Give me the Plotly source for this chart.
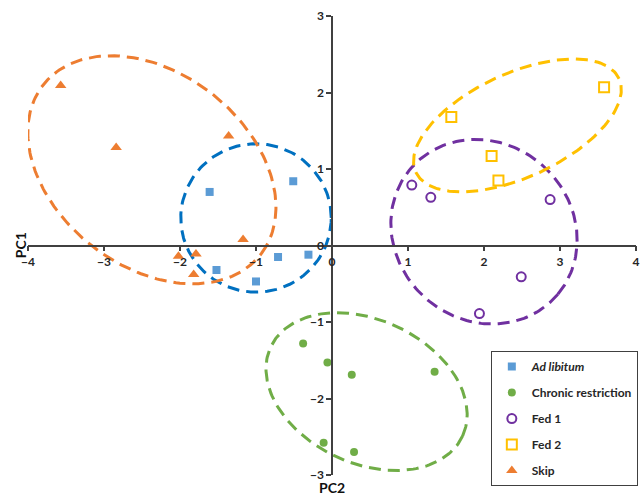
import numpy as np
import plotly.graph_objects as go

# Group names (legend order)
groups = ["<i>Ad libitum</i>", "Chronic restriction", "Fed 1", "Fed 2", "Skip"]

# PCA scores per group
ad_lib_x = [-1.61, -0.51, -1.52, -1.00, -0.71, -0.31]
ad_lib_y = [0.70, 0.84, -0.32, -0.47, -0.15, -0.12]
chronic_x = [-0.38, -0.06, 0.26, 1.35, -0.11, 0.29]
chronic_y = [-1.28, -1.53, -1.69, -1.65, -2.58, -2.70]
fed1_x = [1.05, 1.30, 2.87, 2.49, 1.94]
fed1_y = [0.79, 0.63, 0.60, -0.41, -0.89]
fed2_x = [1.57, 2.10, 2.19, 3.58]
fed2_y = [1.68, 1.17, 0.85, 2.07]
skip_x = [-3.57, -2.84, -1.36, -1.17, -2.02, -1.79, -1.82]
skip_y = [2.09, 1.28, 1.43, 0.08, -0.14, -0.11, -0.38]

# Group ellipses: centre, semi-axes and rotation (degrees)
ell_cx = [-1.00, 0.455, 2.00, 2.44, -2.37]
ell_cy = [0.36, -1.91, 0.18, 1.57, 0.99]
ell_a = [0.99, 1.39, 1.27, 1.47, 1.81]
ell_b = [0.97, 0.94, 1.16, 0.68, 1.27]
ell_angle = [0, -24.5, -40, 24.5, -37.3]

x_ticks = [-4, -3, -2, -1, 0, 1, 2, 3, 4]
y_ticks = [-3, -2, -1, 0, 1, 2, 3]

xs = [ad_lib_x, chronic_x, fed1_x, fed2_x, skip_x]
ys = [ad_lib_y, chronic_y, fed1_y, fed2_y, skip_y]
ell_colors = ["#0070C0", "#70AD47", "#7030A0", "#FFC000", "#ED7D31"]
marker_styles = [
    dict(symbol="square", size=8, color="#5B9BD5"),
    dict(symbol="circle", size=8, color="#70AD47"),
    dict(symbol="circle-open", size=9, color="#7030A0", line=dict(width=2, color="#7030A0")),
    dict(symbol="square-open", size=10, color="#FFC000", line=dict(width=2, color="#FFC000")),
    dict(symbol="triangle-up", size=10, color="#ED7D31"),
]

fig = go.Figure()

t = np.linspace(0, 2 * np.pi, 200)
for cx, cy, a, b, ang, col in zip(ell_cx, ell_cy, ell_a, ell_b, ell_angle, ell_colors):
    th = np.deg2rad(ang)
    ex = cx + a * np.cos(t) * np.cos(th) - b * np.sin(t) * np.sin(th)
    ey = cy + a * np.cos(t) * np.sin(th) + b * np.sin(t) * np.cos(th)
    fig.add_trace(go.Scatter(
        x=ex, y=ey, mode="lines", showlegend=False, hoverinfo="skip",
        line=dict(color=col, width=3, dash="12px,7px"),
    ))

for i, (name, x, y, m) in enumerate(zip(groups, xs, ys, marker_styles)):
    fig.add_trace(go.Scatter(
        x=x, y=y, mode="markers", name=name, marker=m,
        legendgroup=f"g{i}",
    ))

font_family = "Lato, Open Sans, sans-serif"
tick_font = dict(family=font_family, size=12, color="#262626", weight="bold")
axis_common = dict(
    showgrid=False, zeroline=False, showline=True, linecolor="#404040", linewidth=1.5,
    ticks="outside", ticklen=5, tickcolor="#404040", tickwidth=1.5,
    tickfont=tick_font, anchor="free", position=0.5, fixedrange=True,
)

fig.update_layout(
    width=640, height=495,
    margin=dict(l=28, r=4, t=16, b=20, autoexpand=False),
    paper_bgcolor="white", plot_bgcolor="white",
    xaxis=dict(range=[-4, 4], tickvals=x_ticks, **axis_common),
    yaxis=dict(range=[-3, 3], tickvals=y_ticks, **axis_common),
    legend=dict(
        x=1.003, xanchor="right", y=-0.024, yanchor="bottom",
        bordercolor="#404040", borderwidth=1, bgcolor="white",
        font=dict(family=font_family, size=12, color="#262626", weight="bold"),
        traceorder="grouped", tracegroupgap=7,
    ),
    annotations=[
        dict(text="PC1", xref="paper", yref="y", x=-0.012, y=0, textangle=-90,
             xanchor="center", yanchor="middle", showarrow=False,
             font=dict(family=font_family, size=14, color="#111", weight="bold")),
        dict(text="PC2", xref="x", yref="paper", x=0, y=-0.028,
             xanchor="center", yanchor="middle", showarrow=False,
             font=dict(family=font_family, size=14, color="#111", weight="bold")),
    ],
)

fig.write_html("out.html")
